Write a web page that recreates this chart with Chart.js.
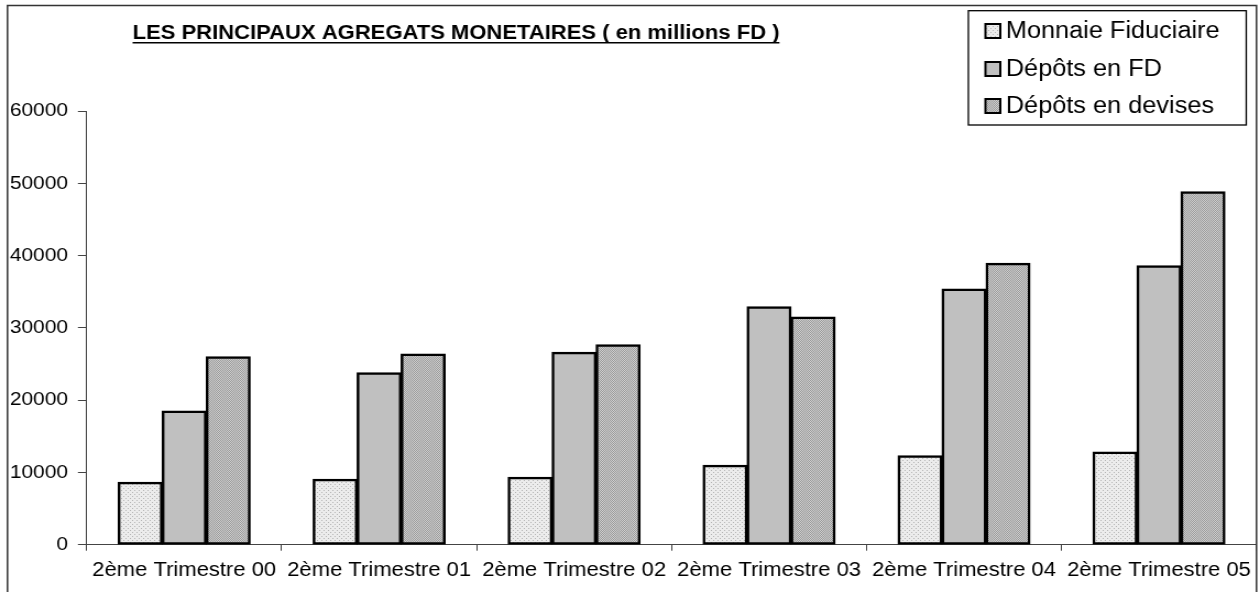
<!DOCTYPE html>
<html>
<head>
<meta charset="utf-8">
<script src="https://cdn.jsdelivr.net/npm/chart.js@4.4.1/dist/chart.umd.min.js"></script>
<style>
  html, body { margin: 0; padding: 0; background: #fff; }
</style>
</head>
<body>
<!-- the original picture is an Excel chart stretched sideways, so the canvas is too -->
<canvas id="chart" width="1145" height="592" style="display:block;width:1260px;height:592px"></canvas>
<script>
// données
const trimestres = ["2ème Trimestre 00", "2ème Trimestre 01", "2ème Trimestre 02",
                    "2ème Trimestre 03", "2ème Trimestre 04", "2ème Trimestre 05"];
const monnaieFiduciaire = [8630, 9050, 9320, 10980, 12310, 12820];
const depotsFD = [18490, 23790, 26610, 32920, 35370, 38590];
const depotsDevises = [26000, 26380, 27660, 31490, 38920, 48820];
const seriesNames = ["Monnaie Fiduciaire", "Dépôts en FD", "Dépôts en devises"];
const titre = "LES PRINCIPAUX AGREGATS MONETAIRES ( en millions FD )";

const FONT = "'Liberation Sans', Arial, sans-serif";

// petits motifs pointillés comme dans Excel
function makePattern(base, dot, cells) {
  const c = document.createElement("canvas");
  c.width = 4; c.height = 4;
  const g = c.getContext("2d");
  g.fillStyle = base;
  g.fillRect(0, 0, 4, 4);
  g.fillStyle = dot;
  cells.forEach(p => g.fillRect(p[0], p[1], 1, 1));
  return g.createPattern(c, "repeat");
}
const ctx = document.getElementById("chart").getContext("2d");
const fillMF = makePattern("#ececec", "#b4b4b4", [[0, 0], [2, 2]]);
const fillFD = "#c0c0c0";
const fillDev = makePattern("#cfcfcf", "#9a9a9a", [[0, 0], [2, 0], [1, 1], [3, 1], [0, 2], [2, 2], [1, 3], [3, 3]]);
const fills = [fillMF, fillFD, fillDev];

// cadre + titre + légende dessinés à la main
const decorPlugin = {
  id: "decor",
  beforeDraw(chart) {
    const c = chart.ctx;
    c.save();
    c.fillStyle = "#fff";
    c.fillRect(0, 0, chart.width, chart.height);
    c.restore();
  },
  afterDraw(chart) {
    const c = chart.ctx;
    c.save();
    // cadre extérieur
    c.strokeStyle = "#333";
    c.lineWidth = 1.5;
    c.strokeRect(6.8, 5.5, 1141.8 - 6.8, 700);

    // titre souligné
    c.fillStyle = "#000";
    c.font = "bold 20px " + FONT;
    c.textBaseline = "alphabetic";
    c.textAlign = "left";
    c.fillText(titre, 120.5, 38.5);
    const w = c.measureText(titre).width;
    c.lineWidth = 1.4;
    c.strokeStyle = "#000";
    c.beginPath();
    c.moveTo(120.5, 42.7);
    c.lineTo(120.5 + w, 42.7);
    c.stroke();

    // légende
    c.lineWidth = 1.3;
    c.strokeRect(880, 10.7, 252.5, 114.3);
    c.font = "23px " + FONT;
    c.textBaseline = "middle";
    const rows = [31, 69, 106];
    chart.data.datasets.forEach((ds, i) => {
      const y = rows[i];
      c.fillStyle = ds.backgroundColor;
      c.fillRect(895.5, y - 7, 13.5, 14);
      c.lineWidth = 2;
      c.strokeStyle = "#000";
      c.strokeRect(895.5, y - 7, 13.5, 14);
      c.fillStyle = "#000";
      c.fillText(ds.label, 914, y + 1);
    });
    c.restore();
  }
};

new Chart(ctx, {
  type: "bar",
  data: {
    labels: trimestres,
    datasets: [
      { label: seriesNames[0], data: monnaieFiduciaire, backgroundColor: fills[0] },
      { label: seriesNames[1], data: depotsFD, backgroundColor: fills[1] },
      { label: seriesNames[2], data: depotsDevises, backgroundColor: fills[2] }
    ]
  },
  options: {
    responsive: false,
    devicePixelRatio: 1,
    animation: false,
    events: [],
    layout: { padding: { left: 0, top: 111, right: 3.2, bottom: 0 } },
    datasets: {
      bar: {
        borderColor: "#000",
        borderWidth: 2.5,
        borderSkipped: false,
        inflateAmount: 0.5,
        categoryPercentage: 0.677,
        barPercentage: 1
      }
    },
    plugins: {
      legend: { display: false },
      title: { display: false },
      tooltip: { enabled: false }
    },
    scales: {
      x: {
        offset: true,
        afterFit: s => { s.height = 47.3; },
        grid: {
          offset: true,
          drawOnChartArea: false,
          drawTicks: true,
          tickLength: 6,
          color: "#444"
        },
        border: { display: true, color: "#444", width: 1 },
        ticks: {
          color: "#000",
          padding: 8,
          maxRotation: 0,
          autoSkip: false,
          font: { family: FONT, size: 20 }
        }
      },
      y: {
        min: 0,
        max: 60000,
        afterFit: s => { s.width = 78.8; },
        grid: {
          drawOnChartArea: false,
          drawTicks: true,
          tickLength: 8,
          color: "#444"
        },
        border: { display: true, color: "#444", width: 1 },
        ticks: {
          stepSize: 10000,
          color: "#000",
          padding: 9,
          font: { family: FONT, size: 19 },
          callback: v => String(v)
        }
      }
    }
  },
  plugins: [decorPlugin]
});
</script>
</body>
</html>
